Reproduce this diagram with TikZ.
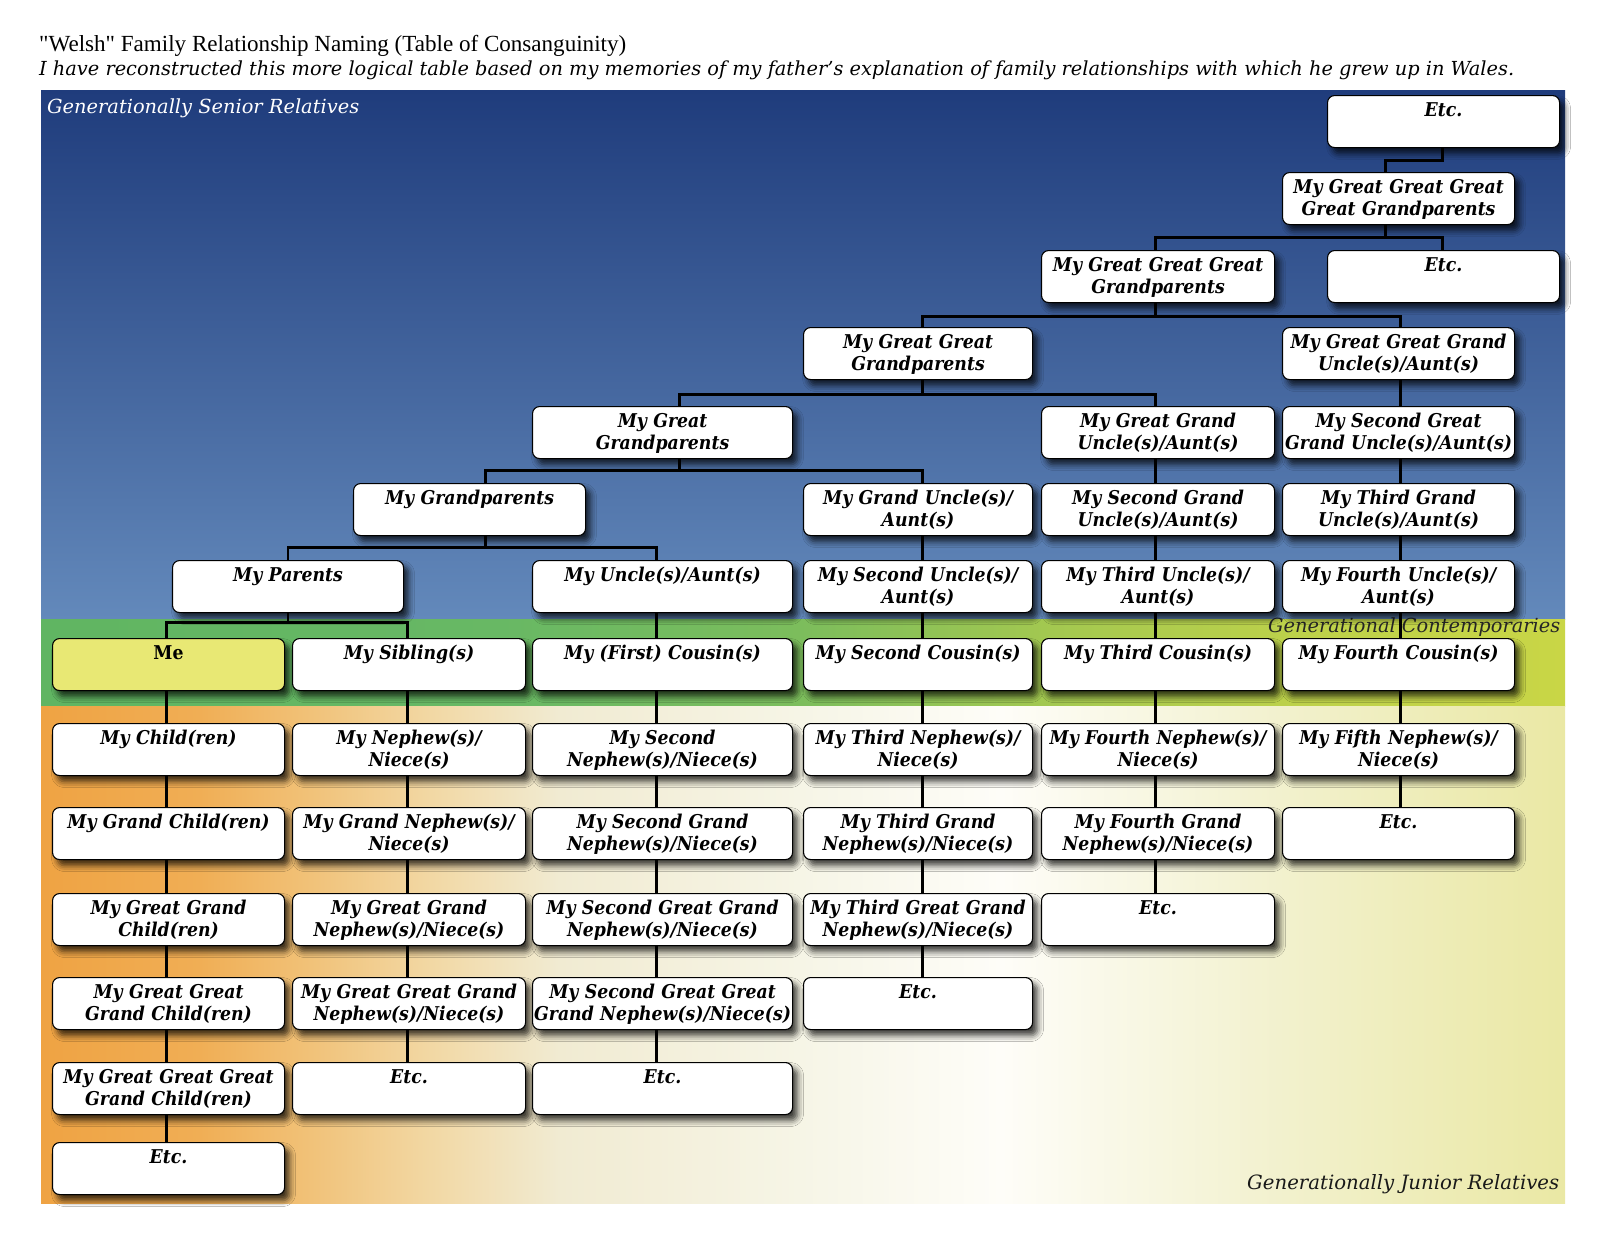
\documentclass[tikz,border=0pt]{standalone}
\usepackage{fontspec}
\usepackage{graphicx}
\setmainfont{DejaVu Serif}
\newfontfamily\boxfont[FakeStretch=0.91]{DejaVu Serif}
\newfontfamily\titlefont{Liberation Serif}
\usetikzlibrary{shadows.blur}

\definecolor{blueTop}{HTML}{1F3C7C}
\definecolor{blueBot}{HTML}{6389BB}
\definecolor{g0}{HTML}{60B562}
\definecolor{g1}{HTML}{68B864}
\definecolor{g2}{HTML}{7CBD5C}
\definecolor{g3}{HTML}{A3C850}
\definecolor{g4}{HTML}{BDD14A}
\definecolor{g5}{HTML}{C9D646}
\definecolor{or0}{HTML}{EFA343}
\definecolor{or1}{HTML}{F0AE55}
\definecolor{or2}{HTML}{F1C075}
\definecolor{or3}{HTML}{F2D8A4}
\definecolor{or4}{HTML}{F1EBD2}
\definecolor{or5}{HTML}{F6F5E6}
\definecolor{or6}{HTML}{FEFDF8}
\definecolor{or7}{HTML}{F3F2D2}
\definecolor{or8}{HTML}{EAE8A4}
\definecolor{meyellow}{HTML}{E8E874}

\pgfdeclarehorizontalshading{greenband}{100bp}{color(0bp)=(g0); color(25bp)=(g0); color(40.1bp)=(g1); color(49.9bp)=(g2); color(58.1bp)=(g3); color(66.3bp)=(g4); color(75bp)=(g5); color(100bp)=(g5)}
\pgfdeclarehorizontalshading{orangeband}{100bp}{color(0bp)=(or0); color(25bp)=(or0); color(30.2bp)=(or1); color(33.5bp)=(or2); color(37.8bp)=(or3); color(42bp)=(or4); color(49.9bp)=(or5); color(56.5bp)=(or6); color(64.7bp)=(or7); color(75bp)=(or8); color(100bp)=(or8)}

\tikzset{
  box/.style={draw=black, line width=1.1pt, fill=white, rounded corners=7pt,
    inner sep=0pt, minimum height=52pt, anchor=north west, align=center,
    font=\boxfont\bfseries\itshape\fontsize{19}{22}\selectfont,
    blur shadow={shadow xshift=5pt, shadow yshift=-6pt, shadow blur radius=6pt, shadow opacity=75}},
  conn/.style={draw=black, line width=2.8pt},
  bandlabel/.style={anchor=base west, inner sep=0pt, font=\itshape\fontsize{17}{20}\selectfont}
}

% name, x, y, width, line1, line2
\newcommand\bx[7][]{\node[box,#1,text width=#5pt] (#2) at (#3,#4) {\rule{0pt}{17pt}#6\\#7\rule[-5pt]{0pt}{5pt}};}
% straight vertical: parent, child, shift
\newcommand\vl[3]{\draw[conn] ([xshift=#3pt]#1.south) -- ([xshift=#3pt]#2.north);}
% bar: parent, shift, drop, child, childshift
\newcommand\br[5]{\draw[conn] ([xshift=#2pt]#1.south) -- ++(0,#3) -| ([xshift=#5pt]#4.north);}

\begin{document}
\begin{tikzpicture}[x=1pt,y=-1pt]
\useasboundingbox (0,0) rectangle (1600,1237);

\fill[white] (0,0) rectangle (1600,1237);
\shade[top color=blueTop, bottom color=blueBot] (41,90) rectangle (1565,619);
\shade[shading=greenband] (41,619) rectangle (1565,706);
\shade[shading=orangeband] (41,706) rectangle (1565,1203);
\node[anchor=base west, inner sep=0pt] (title) at (39,51)
  {\resizebox{587pt}{!}{\titlefont\fontsize{20}{24}\selectfont "Welsh" Family Relationship Naming (Table of Consanguinity)}};
\node[anchor=base west, inner sep=0pt] (subtitle) at (39,75)
  {\resizebox{1475pt}{!}{\itshape\fontsize{18}{22}\selectfont I have reconstructed this more logical table based on my memories of my father's explanation of family relationships with which he grew up in Wales.}};
\node[bandlabel, text=white] (senior) at (47,113) {\resizebox{312pt}{!}{Generationally Senior Relatives}};
\node[bandlabel, text=black!85] (contemp) at (1268,632) {\resizebox{292pt}{!}{Generational Contemporaries}};
\node[bandlabel, text=black!90] (junior) at (1247,1189) {\resizebox{312pt}{!}{Generationally Junior Relatives}};

% ---- senior rows ----
\bx{etcA}{1327}{95}{232}{Etc.}{}
\bx{gggg}{1282}{172}{232}{My Great Great Great}{Great Grandparents}
\bx{ggg}{1041}{250}{233}{My Great Great Great}{Grandparents}
\bx{etcC}{1327}{250}{232}{Etc.}{}
\bx{gg}{803}{327}{229}{My Great Great}{Grandparents}
\bx{ggu}{1282}{327}{232}{My Great Great Grand}{Uncle(s)/Aunt(s)}
\bx{gp3}{532}{406}{260}{My Great}{Grandparents}
\bx{gu2}{1041}{406}{233}{My Great Grand}{Uncle(s)/Aunt(s)}
\bx{sgu}{1282}{406}{232}{My Second Great}{Grand Uncle(s)/Aunt(s)}
\bx{gp}{353}{483}{232}{My Grandparents}{}
\bx{gu}{803}{483}{229}{My Grand Uncle(s)/}{Aunt(s)}
\bx{sgru}{1041}{483}{233}{My Second Grand}{Uncle(s)/Aunt(s)}
\bx{tgru}{1282}{483}{232}{My Third Grand}{Uncle(s)/Aunt(s)}
\bx{par}{172}{560}{231}{My Parents}{}
\bx{unc}{532}{560}{260}{My Uncle(s)/Aunt(s)}{}
\bx{sunc}{803}{560}{229}{My Second Uncle(s)/}{Aunt(s)}
\bx{tunc}{1041}{560}{233}{My Third Uncle(s)/}{Aunt(s)}
\bx{func}{1282}{560}{232}{My Fourth Uncle(s)/}{Aunt(s)}

% ---- contemporaries ----
\bx[fill=meyellow, font=\boxfont\bfseries\fontsize{19}{22}\selectfont]{me}{52}{638}{232}{Me}{}
\bx{sib}{292}{638}{233}{My Sibling(s)}{}
\bx{cou1}{532}{638}{260}{My (First) Cousin(s)}{}
\bx{cou2}{803}{638}{229}{My Second Cousin(s)}{}
\bx{cou3}{1041}{638}{233}{My Third Cousin(s)}{}
\bx{cou4}{1282}{638}{232}{My Fourth Cousin(s)}{}

% ---- junior rows ----
\bx{ch1}{52}{723}{232}{My Child(ren)}{}
\bx{ne1}{292}{723}{233}{My Nephew(s)/}{Niece(s)}
\bx{ne2}{532}{723}{260}{My Second}{Nephew(s)/Niece(s)}
\bx{ne3}{803}{723}{229}{My Third Nephew(s)/}{Niece(s)}
\bx{ne4}{1041}{723}{233}{My Fourth Nephew(s)/}{Niece(s)}
\bx{ne5}{1282}{723}{232}{My Fifth Nephew(s)/}{Niece(s)}

\bx{ch2}{52}{807}{232}{My Grand Child(ren)}{}
\bx{gn1}{292}{807}{233}{My Grand Nephew(s)/}{Niece(s)}
\bx{gn2}{532}{807}{260}{My Second Grand}{Nephew(s)/Niece(s)}
\bx{gn3}{803}{807}{229}{My Third Grand}{Nephew(s)/Niece(s)}
\bx{gn4}{1041}{807}{233}{My Fourth Grand}{Nephew(s)/Niece(s)}
\bx{etcJ}{1282}{807}{232}{Etc.}{}

\bx{ch3}{52}{893}{232}{My Great Grand}{Child(ren)}
\bx{ggn1}{292}{893}{233}{My Great Grand}{Nephew(s)/Niece(s)}
\bx{ggn2}{532}{893}{260}{My Second Great Grand}{Nephew(s)/Niece(s)}
\bx{ggn3}{803}{893}{229}{My Third Great Grand}{Nephew(s)/Niece(s)}
\bx{etcK}{1041}{893}{233}{Etc.}{}

\bx{ch4}{52}{977}{232}{My Great Great}{Grand Child(ren)}
\bx{gggn1}{292}{977}{233}{My Great Great Grand}{Nephew(s)/Niece(s)}
\bx{gggn2}{532}{977}{260}{My Second Great Great}{Grand Nephew(s)/Niece(s)}
\bx{etcL}{803}{977}{229}{Etc.}{}

\bx{ch5}{52}{1062}{232}{My Great Great Great}{Grand Child(ren)}
\bx{etcM1}{292}{1062}{233}{Etc.}{}
\bx{etcM2}{532}{1062}{260}{Etc.}{}

\bx{etcN}{52}{1142}{232}{Etc.}{}

% ---- connectors ----
\br{etcA}{-1}{12}{gggg}{-13}
\br{gggg}{-13}{12}{ggg}{-2.5}
\br{gggg}{-13}{12}{etcC}{-1}
\br{ggg}{-2.5}{13}{gg}{4.5}
\br{ggg}{-2.5}{13}{ggu}{2}
\br{gg}{4.5}{14}{gp3}{17}
\br{gg}{4.5}{14}{gu2}{-2.5}
\vl{ggu}{sgu}{2}
\br{gp3}{17}{11}{gp}{16}
\br{gp3}{17}{11}{gu}{4.5}
\vl{gu2}{sgru}{-2.5}
\vl{sgu}{tgru}{2}
\br{gp}{16}{11}{par}{0}
\br{gp}{16}{11}{unc}{-6}
\vl{gu}{sunc}{4.5}
\vl{sgru}{tunc}{-2.5}
\vl{tgru}{func}{2}
\br{par}{0}{9}{me}{-2}
\br{par}{0}{9}{sib}{-1.5}
\vl{unc}{cou1}{-6}
\vl{sunc}{cou2}{4.5}
\vl{tunc}{cou3}{-2.5}
\vl{func}{cou4}{2}
% columns
\vl{me}{ch1}{-2}\vl{ch1}{ch2}{-2}\vl{ch2}{ch3}{-2}\vl{ch3}{ch4}{-2}\vl{ch4}{ch5}{-2}\vl{ch5}{etcN}{-2}
\vl{sib}{ne1}{-1.5}\vl{ne1}{gn1}{-1.5}\vl{gn1}{ggn1}{-1.5}\vl{ggn1}{gggn1}{-1.5}\vl{gggn1}{etcM1}{-1.5}
\vl{cou1}{ne2}{-6}\vl{ne2}{gn2}{-6}\vl{gn2}{ggn2}{-6}\vl{ggn2}{gggn2}{-6}\vl{gggn2}{etcM2}{-6}
\vl{cou2}{ne3}{4.5}\vl{ne3}{gn3}{4.5}\vl{gn3}{ggn3}{4.5}\vl{ggn3}{etcL}{4.5}
\vl{cou3}{ne4}{-2.5}\vl{ne4}{gn4}{-2.5}\vl{gn4}{etcK}{-2.5}
\vl{cou4}{ne5}{2}\vl{ne5}{etcJ}{2}
\end{tikzpicture}
\end{document}
